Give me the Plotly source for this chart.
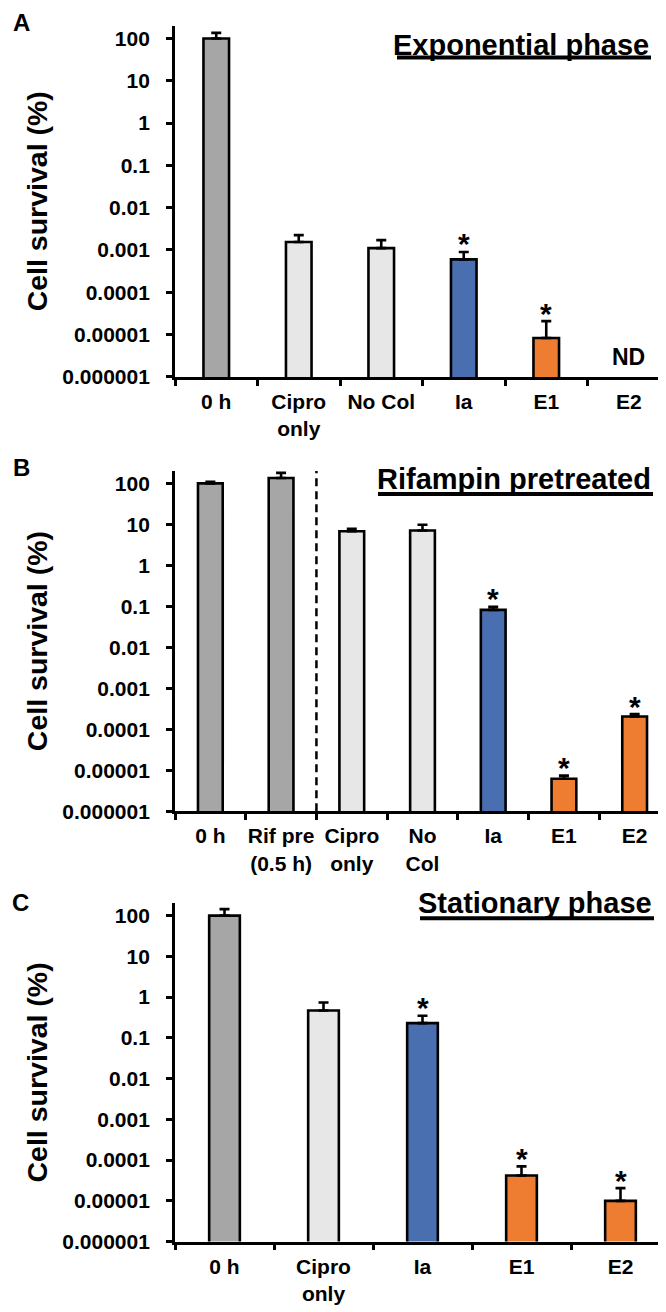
import math
import plotly.graph_objects as go

W, H = 666, 1312

GRAY = "#a6a6a6"
LIGHT = "#e7e7e7"
BLUE = "#4a6fb1"
ORANGE = "#ee7d32"

# ---------------- data ----------------
# Panel A: Exponential phase
cats_a = ["0 h", "Cipro<br>only", "No Col", "Ia", "E1", "E2"]
vals_a = [100, 0.00155, 0.00111, 0.0006, 8.3e-6, None]
err_a = [36, 0.0007, 0.0006, 0.0003, 1.25e-5, None]
colors_a = [GRAY, LIGHT, LIGHT, BLUE, ORANGE, ORANGE]
star_a = ["Ia", "E1"]
nd_a = ["E2"]

# Panel B: Rifampin pretreated
cats_b = ["0 h", "Rif pre<br>(0.5 h)", "Cipro<br>only", "No<br>Col", "Ia", "E1", "E2"]
vals_b = [100, 135, 6.8, 7.1, 0.082, 6.2e-6, 0.000204]
err_b = [10, 45, 1.0, 2.7, 0.015, 1.2e-6, 3e-5]
colors_b = [GRAY, GRAY, LIGHT, LIGHT, BLUE, ORANGE, ORANGE]
star_b = ["Ia", "E1", "E2"]

# Panel C: Stationary phase
cats_c = ["0 h", "Cipro<br>only", "Ia", "E1", "E2"]
vals_c = [100, 0.47, 0.23, 4.2e-5, 1.0e-5]
err_c = [45, 0.27, 0.12, 2.8e-5, 1.05e-5]
colors_c = [GRAY, LIGHT, BLUE, ORANGE, ORANGE]
star_c = ["Ia", "E1", "E2"]

tick_vals = [1e-6, 1e-5, 1e-4, 1e-3, 1e-2, 1e-1, 1, 10, 100]
tick_text = ["0.000001", "0.00001", "0.0001", "0.001", "0.01", "0.1", "1", "10", "100"]

titles = ["Exponential phase", "Rifampin pretreated", "Stationary phase"]
letters = ["A", "B", "C"]
ytitle = "Cell survival (%)"

# ---------------- layout geometry (pixels) ----------------
X0, X1 = 167, 662
panels_px = [(18, 372), (467, 810), (903, 1244)]  # (top, bottom) of each plot area
letters_px = [(13, 15), (13, 463), (12, 902)]
bar_fracs = [0.31, 0.35, 0.31]

FONT = "Liberation Sans, Arial, sans-serif"
TICK_SIZE = 21

def py(p):
    return 1 - p / H

def px(p):
    return p / W

fig = go.Figure()

panels = [
    (cats_a, vals_a, err_a, colors_a, star_a),
    (cats_b, vals_b, err_b, colors_b, star_b),
    (cats_c, vals_c, err_c, colors_c, star_c),
]

for i, (cats, vals, errs, cols, stars) in enumerate(panels):
    n = i + 1
    xa = "x" if n == 1 else f"x{n}"
    ya = "y" if n == 1 else f"y{n}"
    fig.add_trace(go.Bar(
        x=cats, y=vals,
        marker=dict(color=cols, line=dict(color="black", width=2.6)),
        width=bar_fracs[i],
        error_y=dict(type="data", symmetric=False,
                     array=[e if e is not None else 0 for e in errs],
                     arrayminus=[0] * len(errs),
                     color="black", thickness=2.6, width=5),
        xaxis=xa, yaxis=ya, showlegend=False, hoverinfo="skip",
    ))
    top, bot = panels_px[i]
    lay_x = "xaxis" if n == 1 else f"xaxis{n}"
    lay_y = "yaxis" if n == 1 else f"yaxis{n}"
    fig.layout[lay_x] = dict(
        domain=[px(X0), px(X1)], anchor=ya, type="category",
        tickson="boundaries", ticks="outside", ticklen=6, tickwidth=2.5,
        tickcolor="black", showline=True, linecolor="black", linewidth=2.8,
        showgrid=False, zeroline=False, fixedrange=True,
        tickangle=0, ticklabelstandoff=4,
        tickfont=dict(family=FONT, size=TICK_SIZE, color="black", weight="bold"),
    )
    fig.layout[lay_y] = dict(
        domain=[py(bot), py(top)], anchor=xa, type="log", range=[-6, 2.3],
        tickvals=tick_vals, ticktext=tick_text,
        ticks="outside", ticklen=6, tickwidth=2.5, tickcolor="black",
        showline=True, linecolor="black", linewidth=2.8,
        showgrid=False, zeroline=False, fixedrange=True,
        ticklabelstandoff=12,
        tickfont=dict(family=FONT, size=TICK_SIZE, color="black", weight="bold"),
    )
    # significance stars (log axis: annotation y is in log10 units)
    for c in stars:
        k = cats.index(c)
        fig.add_annotation(
            x=c, y=math.log10(vals[k] + errs[k]), xref=xa, yref=ya, text="*",
            showarrow=False, yanchor="middle", yshift=8,
            font=dict(family=FONT, size=30, color="black", weight="bold"),
        )
    # panel letter
    lx, ly = letters_px[i]
    fig.add_annotation(
        x=px(lx), y=py(ly), xref="paper", yref="paper", text=letters[i],
        showarrow=False, xanchor="center", yanchor="middle",
        font=dict(family=FONT, size=24, color="black", weight="bold"),
    )
    # y-axis title
    fig.add_annotation(
        x=px(29), y=py((top + bot) / 2), xref="paper", yref="paper", text=ytitle,
        showarrow=False, textangle=-90, xanchor="center", yanchor="middle",
        font=dict(family=FONT, size=28.5, color="black", weight="bold"),
    )

# panel titles with thick underline
title_pos = [(37, 50, 389, 643), (475, 490, 370, 645), (903, 918, 412, 646)]
for t, (yc, yu, xl, xr) in zip(titles, title_pos):
    fig.add_annotation(
        x=px(xr), y=py(yc), xref="paper", yref="paper", text=t,
        showarrow=False, xanchor="right", yanchor="middle",
        font=dict(family=FONT, size=29, color="black", weight="bold"),
    )
    fig.add_shape(type="line", xref="paper", yref="paper",
                  x0=px(xl), x1=px(xr), y0=py(yu), y1=py(yu),
                  line=dict(color="black", width=4))

# ND label for panel A
for c in nd_a:
    fig.add_annotation(
        x=c, y=0, xref="x", yref="y domain", text="ND", showarrow=False,
        yanchor="bottom", yshift=5,
        font=dict(family=FONT, size=23, color="black", weight="bold"),
    )

# dashed divider in panel B between pretreatment and treatment groups
fig.add_shape(type="line", xref="x2", yref="y2 domain",
              x0=1.5, x1=1.5, y0=0, y1=1,
              line=dict(color="black", width=2.5, dash="8px,5px"))

fig.update_layout(
    width=W, height=H, autosize=False,
    margin=dict(l=0, r=0, t=0, b=0),
    paper_bgcolor="white", plot_bgcolor="white",
    bargap=0.6, showlegend=False,
    font=dict(family=FONT, color="black"),
)

fig.write_html("out.html")
